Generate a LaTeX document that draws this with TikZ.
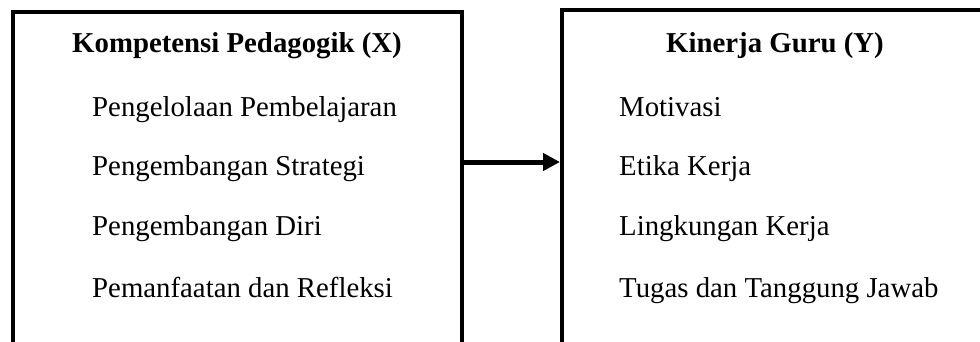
\documentclass[tikz,border=0pt]{standalone}
\usepackage{fontspec}
\setmainfont{Liberation Serif}
\usetikzlibrary{arrows.meta}

\begin{document}
\begin{tikzpicture}[x=1pt, y=-1pt,
  frame/.style={draw=black, line width=4pt, outer sep=0pt, inner sep=0pt, anchor=north west},
  heading/.style={font=\fontsize{28.8}{34}\selectfont\bfseries, anchor=base, inner sep=0pt},
  item/.style={font=\fontsize{28.8}{34}\selectfont, anchor=base west, inner sep=0pt},
  link/.style={line width=5pt, -{Triangle[length=17pt, width=17pt]}}]
  \useasboundingbox (0,0) rectangle (980,341);
  \clip (0,0) rectangle (980,341);

  % the two frames, both open below the page edge
  \node[frame, minimum width=449pt, minimum height=400pt] (kx) at (13,12) {};
  \node[frame, minimum width=426pt, minimum height=400pt] (ky) at (562,10) {};

  % left frame: pedagogical competence
  \node[heading] (tx) at (237,52) {Kompetensi Pedagogik (X)};
  \node[item] (x1) at (92,116) {Pengelolaan Pembelajaran};
  \node[item] (x2) at (92,175) {Pengembangan Strategi};
  \node[item] (x3) at (92,235) {Pengembangan Diri};
  \node[item] (x4) at (92,297) {Pemanfaatan dan Refleksi};

  % right frame: teacher performance
  \node[heading] (ty) at (775,52) {Kinerja Guru (Y)};
  \node[item] (y1) at (619,116) {Motivasi};
  \node[item] (y2) at (619,175) {Etika Kerja};
  \node[item] (y3) at (619,235) {Lingkungan Kerja};
  \node[item] (y4) at (619,297) {Tugas dan Tanggung Jawab};

  % influence of X on Y
  \coordinate (ay) at (0,162);
  \draw[link] (kx.east |- ay) -- ([xshift=-2pt]ky.west |- ay);
\end{tikzpicture}
\end{document}
